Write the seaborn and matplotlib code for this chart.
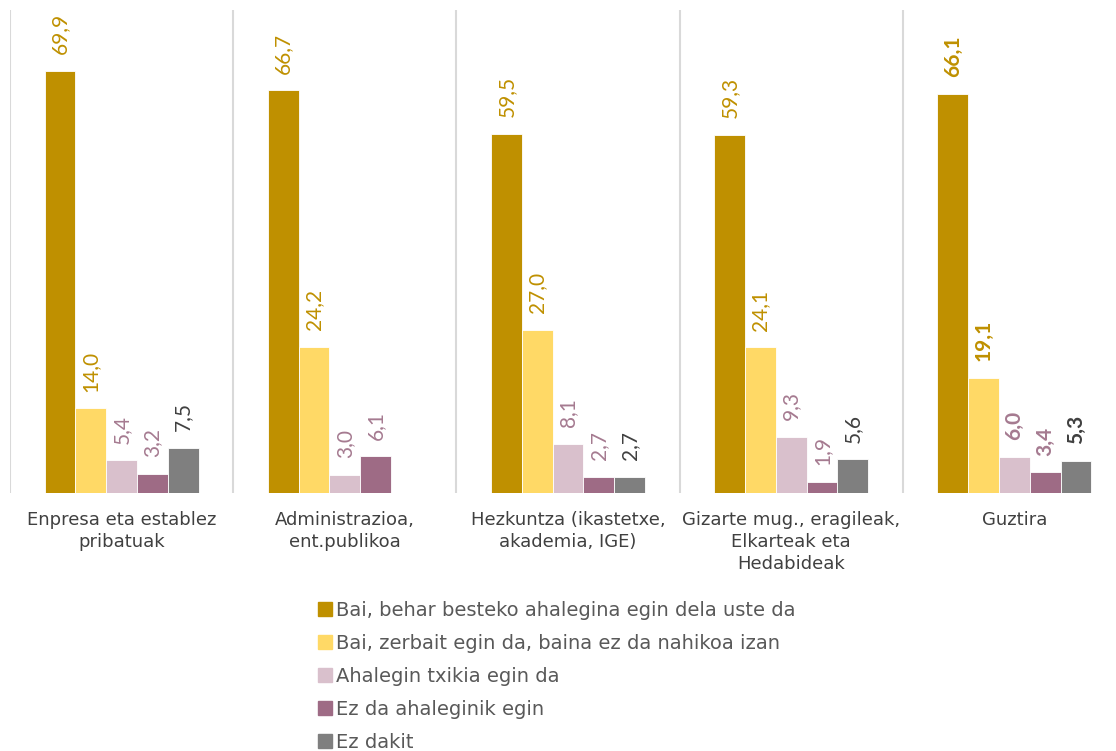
import numpy as np
import pandas as pd
import matplotlib
matplotlib.use("Agg")
import matplotlib.pyplot as plt
import seaborn as sns

# ------------------------------------------------------------------
# Data
# ------------------------------------------------------------------

categories = [
    "Enpresa eta establez\npribatuak",
    "Administrazioa,\nent.publikoa",
    "Hezkuntza (ikastetxe,\nakademia, IGE)",
    "Gizarte mug., eragileak,\nElkarteak eta\nHedabideak",
    "Guztira",
]

series_names = [
    "Bai, behar besteko ahalegina egin dela uste da",
    "Bai, zerbait egin da, baina ez da nahikoa izan",
    "Ahalegin txikia egin da",
    "Ez da ahaleginik egin",
    "Ez dakit",
]

bai_behar = [69.9, 66.7, 59.5, 59.3, 66.1]
bai_zerbait = [14.0, 24.2, 27.0, 24.1, 19.1]
txikia = [5.4, 3.0, 8.1, 9.3, 6.0]
ez_ahaleginik = [3.2, 6.1, 2.7, 1.9, 3.4]
ez_dakit = [7.5, np.nan, 2.7, 5.6, 5.3]

bar_colors = ["#BF9000", "#FFD966", "#D9C0CC", "#9E6B85", "#7F7F7F"]
label_colors = ["#BF9000", "#BF9000", "#A57A90", "#A57A90", "#404040"]

# ------------------------------------------------------------------
# Build long table
# ------------------------------------------------------------------

values = [bai_behar, bai_zerbait, txikia, ez_ahaleginik, ez_dakit]
rows = []
for name, vals in zip(series_names, values):
    for cat, v in zip(categories, vals):
        rows.append({"category": cat, "series": name, "value": v})
df = pd.DataFrame(rows)

# ------------------------------------------------------------------
# Plot
# ------------------------------------------------------------------

sns.set_theme(style="white")
plt.rcParams["font.family"] = ["DejaVu Sans"]

W, H = 1116, 751
fig = plt.figure(figsize=(W / 100, H / 100), dpi=100)

left_px, right_px, top_px, bottom_px = 10, 1126, 10, 493
ax = fig.add_axes([
    left_px / W,
    1 - bottom_px / H,
    (right_px - left_px) / W,
    (bottom_px - top_px) / H,
])

sns.barplot(
    data=df,
    x="category",
    y="value",
    hue="series",
    hue_order=series_names,
    order=categories,
    palette=bar_colors,
    width=0.69,
    saturation=1,
    edgecolor="white",
    linewidth=0.6,
    ax=ax,
)

ax.set_xlim(-0.5, 4.5)
ax.set_ylim(0, 80)

# separators between groups
for xpos in np.arange(-0.5, 5.0, 1.0):
    ax.axvline(xpos, color="#D9D9D9", linewidth=1.5, zorder=0)

# value labels (the "Guztira" group is bold)
total_idx = len(categories) - 1
for i, container in enumerate(ax.containers):
    for bar in container:
        h = bar.get_height()
        if np.isnan(h):
            continue
        xc = bar.get_x() + bar.get_width() / 2
        is_total = int(round(xc)) == total_idx
        ax.annotate(
            f"{h:.1f}".replace(".", ","),
            (xc, h),
            xytext=(0, 12),
            textcoords="offset points",
            ha="center",
            va="bottom",
            rotation=90,
            fontsize=15,
            family=["Lato", "DejaVu Sans"],
            color=label_colors[i],
            fontweight="bold" if is_total else "normal",
        )

ax.set_xlabel("")
ax.set_ylabel("")
ax.set_yticks([])
ax.tick_params(axis="x", length=0, pad=13, labelsize=13, labelcolor="#404040")
for lbl in ax.get_xticklabels():
    lbl.set_linespacing(1.3)
    lbl.set_verticalalignment("top")

for s in ax.spines.values():
    s.set_visible(False)

ax.get_legend().remove()
handles = [plt.Rectangle((0, 0), 1, 1, color=c) for c in bar_colors]
fig.legend(
    handles,
    series_names,
    loc="upper left",
    bbox_to_anchor=(318 / W, 1 - 601 / H),
    frameon=False,
    fontsize=14,
    labelcolor="#595959",
    handlelength=0.7,
    handleheight=0.7,
    handletextpad=0.25,
    labelspacing=0.72,
    borderaxespad=0,
    borderpad=0,
)

fig.savefig("out.png", dpi=100)
